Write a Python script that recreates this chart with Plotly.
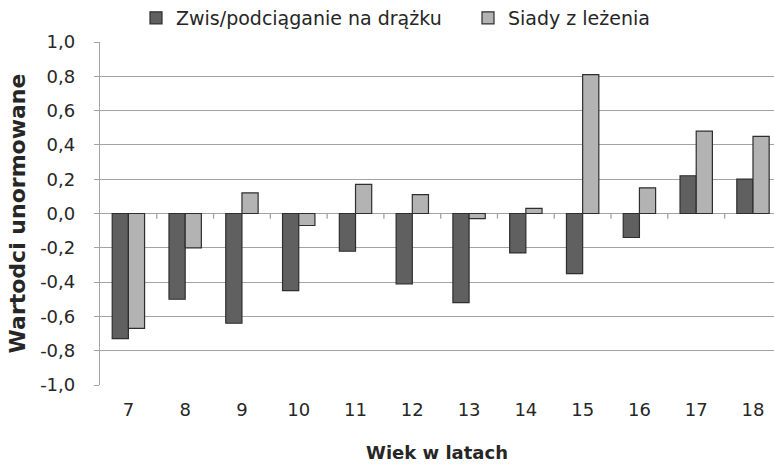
import plotly.graph_objects as go

ages = [7, 8, 9, 10, 11, 12, 13, 14, 15, 16, 17, 18]
age_labels = [str(a) for a in ages]
zwis = [-0.73, -0.50, -0.64, -0.45, -0.22, -0.41, -0.52, -0.23, -0.35, -0.14, 0.22, 0.20]
siady = [-0.67, -0.20, 0.12, -0.07, 0.17, 0.11, -0.03, 0.03, 0.81, 0.15, 0.48, 0.45]
y_ticks = [-1.0, -0.8, -0.6, -0.4, -0.2, 0.0, 0.2, 0.4, 0.6, 0.8, 1.0]
y_tick_labels = [f"{v:.1f}".replace(".", ",") for v in y_ticks]

FONT = "DejaVu Sans"
GRID = "#a3a3a3"
TXT = "#262626"
x_range = [ages[0] - 0.5, ages[-1] + 0.37]
boundaries = [a + 0.5 for a in ages[:-1]]

fig = go.Figure()
fig.add_trace(go.Bar(x=ages, y=zwis, name="Zwis/podciąganie na drążku", legend="legend",
                     showlegend=True,
                     marker=dict(color="#606060", line=dict(color="#2e2e2e", width=1.2))))
fig.add_trace(go.Bar(x=ages, y=siady, name="Siady z leżenia", legend="legend2",
                     showlegend=True,
                     marker=dict(color="#b3b3b3", line=dict(color="#2e2e2e", width=1.2))))

# small category-boundary ticks hanging below the zero line
for b in boundaries:
    fig.add_shape(type="line", xref="x", yref="y", x0=b, x1=b, y0=0, y1=-0.03,
                  line=dict(color=GRID, width=1.3), layer="below")

legend_common = dict(orientation="h", xref="container", yref="container",
                     y=1 - 18 / 467, xanchor="left", yanchor="middle",
                     font=dict(size=19, color=TXT), itemwidth=30, bgcolor="rgba(0,0,0,0)")

fig.update_layout(
    width=774, height=467,
    showlegend=True,
    margin=dict(l=100, r=0, t=42, b=82, autoexpand=False),
    paper_bgcolor="white", plot_bgcolor="white",
    barmode="group", bargap=0.43, bargroupgap=0,
    font=dict(family=FONT, size=17, color=TXT),
    legend=dict(legend_common, x=136 / 774),
    legend2=dict(legend_common, x=468 / 774),
    xaxis=dict(range=x_range, tickvals=ages, ticktext=age_labels, automargin=False,
               showgrid=False, zeroline=False, showline=False, ticks="",
               ticklabelstandoff=12, tickfont=dict(size=18),
               title=dict(text="<b>Wiek w latach</b>", font=dict(size=18), standoff=27)),
    yaxis=dict(range=[-1.0, 1.0], tickvals=y_ticks, ticktext=y_tick_labels, automargin=False,
               showgrid=True, gridcolor=GRID, gridwidth=1.3,
               zeroline=True, zerolinecolor=GRID, zerolinewidth=1.3,
               showline=True, linecolor=GRID, linewidth=1.3,
               ticks="outside", ticklen=5, tickcolor=GRID, tickwidth=1.3,
               ticklabelstandoff=15, tickfont=dict(size=18),
               title=dict(text="<b>Wartodci unormowane</b>", font=dict(size=22), standoff=8)),
)

fig.write_html("out.html", config={"displayModeBar": False},
               post_script="document.body.style.margin='0';")
